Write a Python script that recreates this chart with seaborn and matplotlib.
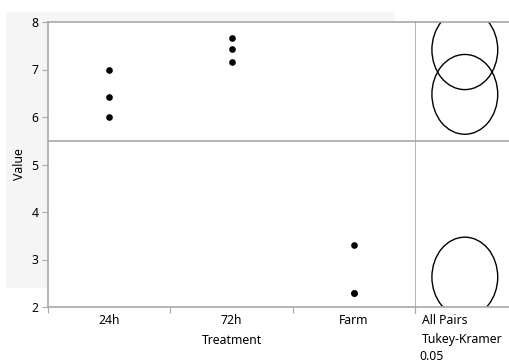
import numpy as np
import pandas as pd
import matplotlib
matplotlib.use("Agg")
import matplotlib.pyplot as plt
from matplotlib.patches import Ellipse, Rectangle
import seaborn as sns

# ── Data ──────────────────────────────────────────
treatments = ["24h", "72h", "Farm"]
values_24h = [7.00, 6.43, 6.00]
values_72h = [7.66, 7.43, 7.16]
values_farm = [3.31, 2.29, 2.29]
circle_radius = 0.84   # Tukey-Kramer comparison circle radius (Value units)
y_ticks = [2, 3, 4, 5, 6, 7, 8]

df = pd.DataFrame({
    "Treatment": ["24h"] * 3 + ["72h"] * 3 + ["Farm"] * 3,
    "Value": values_24h + values_72h + values_farm,
})
means = df.groupby("Treatment")["Value"].mean().reindex(treatments)
grand_mean = 5.5

sns.set_style("white")
plt.rcParams["font.family"] = ["Noto Sans", "DejaVu Sans"]
plt.rcParams["text.color"] = "black"
plt.rcParams["axes.labelcolor"] = "black"
plt.rcParams["xtick.color"] = "black"
plt.rcParams["ytick.color"] = "black"
LINE = "#a8a8a8"
FS = 8.8

fig = plt.figure(figsize=(5.09, 3.64), dpi=100)
W, H = 509, 364

def fx(px):
    return px / W

def fy(py):
    return 1 - py / H

# light panel behind the plot
fig.patches.append(Rectangle((fx(6), fy(288)), fx(395) - fx(6), fy(12) - fy(288),
                             transform=fig.transFigure, facecolor="#f5f5f5",
                             edgecolor="none", zorder=0))

ax = fig.add_axes([fx(48), fy(307), fx(415) - fx(48), fy(22) - fy(307)])
ax.set_zorder(1)
sns.stripplot(data=df, x="Treatment", y="Value", order=treatments, jitter=False,
              color="black", size=4.8, ax=ax, zorder=3)
ax.axhline(grand_mean, color=LINE, lw=1.2, zorder=2)
ax.set_xlim(-0.5, 2.5)
ax.set_ylim(2, 8)
ax.set_yticks(y_ticks)
ax.set_xticks([-0.5, 0.5, 1.5, 2.5], minor=True)
ax.tick_params(axis="x", which="major", length=0, pad=5, labelsize=FS)
ax.tick_params(axis="x", which="minor", length=4.5, width=0.8, color=LINE, bottom=True)
ax.tick_params(axis="y", length=4.5, width=0.8, color=LINE, labelcolor="black",
               pad=2.5, labelsize=FS, left=True)
ax.set_xlabel("Treatment", fontsize=FS, labelpad=5)
ax.set_ylabel("Value", fontsize=FS, labelpad=4)
for s in ax.spines.values():
    s.set_color(LINE)
    s.set_linewidth(1.2)
ax.spines["right"].set_visible(False)

# comparison circles panel
cax = fig.add_axes([fx(415), fy(307), 1 - fx(415), fy(22) - fy(307)])
cax.set_xlim(0, 1)
cax.set_ylim(2, 8)
cax.axhline(grand_mean, color=LINE, lw=1.2)
for m in means:
    cax.add_patch(Ellipse((0.53, m), 0.70, 2 * circle_radius, fill=False,
                          edgecolor="black", lw=1.0))
cax.set_xticks([])
cax.set_yticks([])
for s in cax.spines.values():
    s.set_color(LINE)
    s.set_linewidth(1.2)
cax.spines["right"].set_visible(False)
# little extension of the divider below the axis
fig.add_artist(plt.Line2D([fx(415), fx(415)], [fy(307), fy(313)],
                          transform=fig.transFigure, color=LINE, lw=0.8))

fig.text(fx(422), fy(320), "All Pairs", fontsize=FS, va="center", ha="left")
fig.text(fx(422), fy(339), "Tukey-Kramer", fontsize=FS, va="center", ha="left")
fig.text(fx(419), fy(357), "0.05", fontsize=FS, va="center", ha="left")

plt.savefig("out.png", dpi=100)
plt.close()
